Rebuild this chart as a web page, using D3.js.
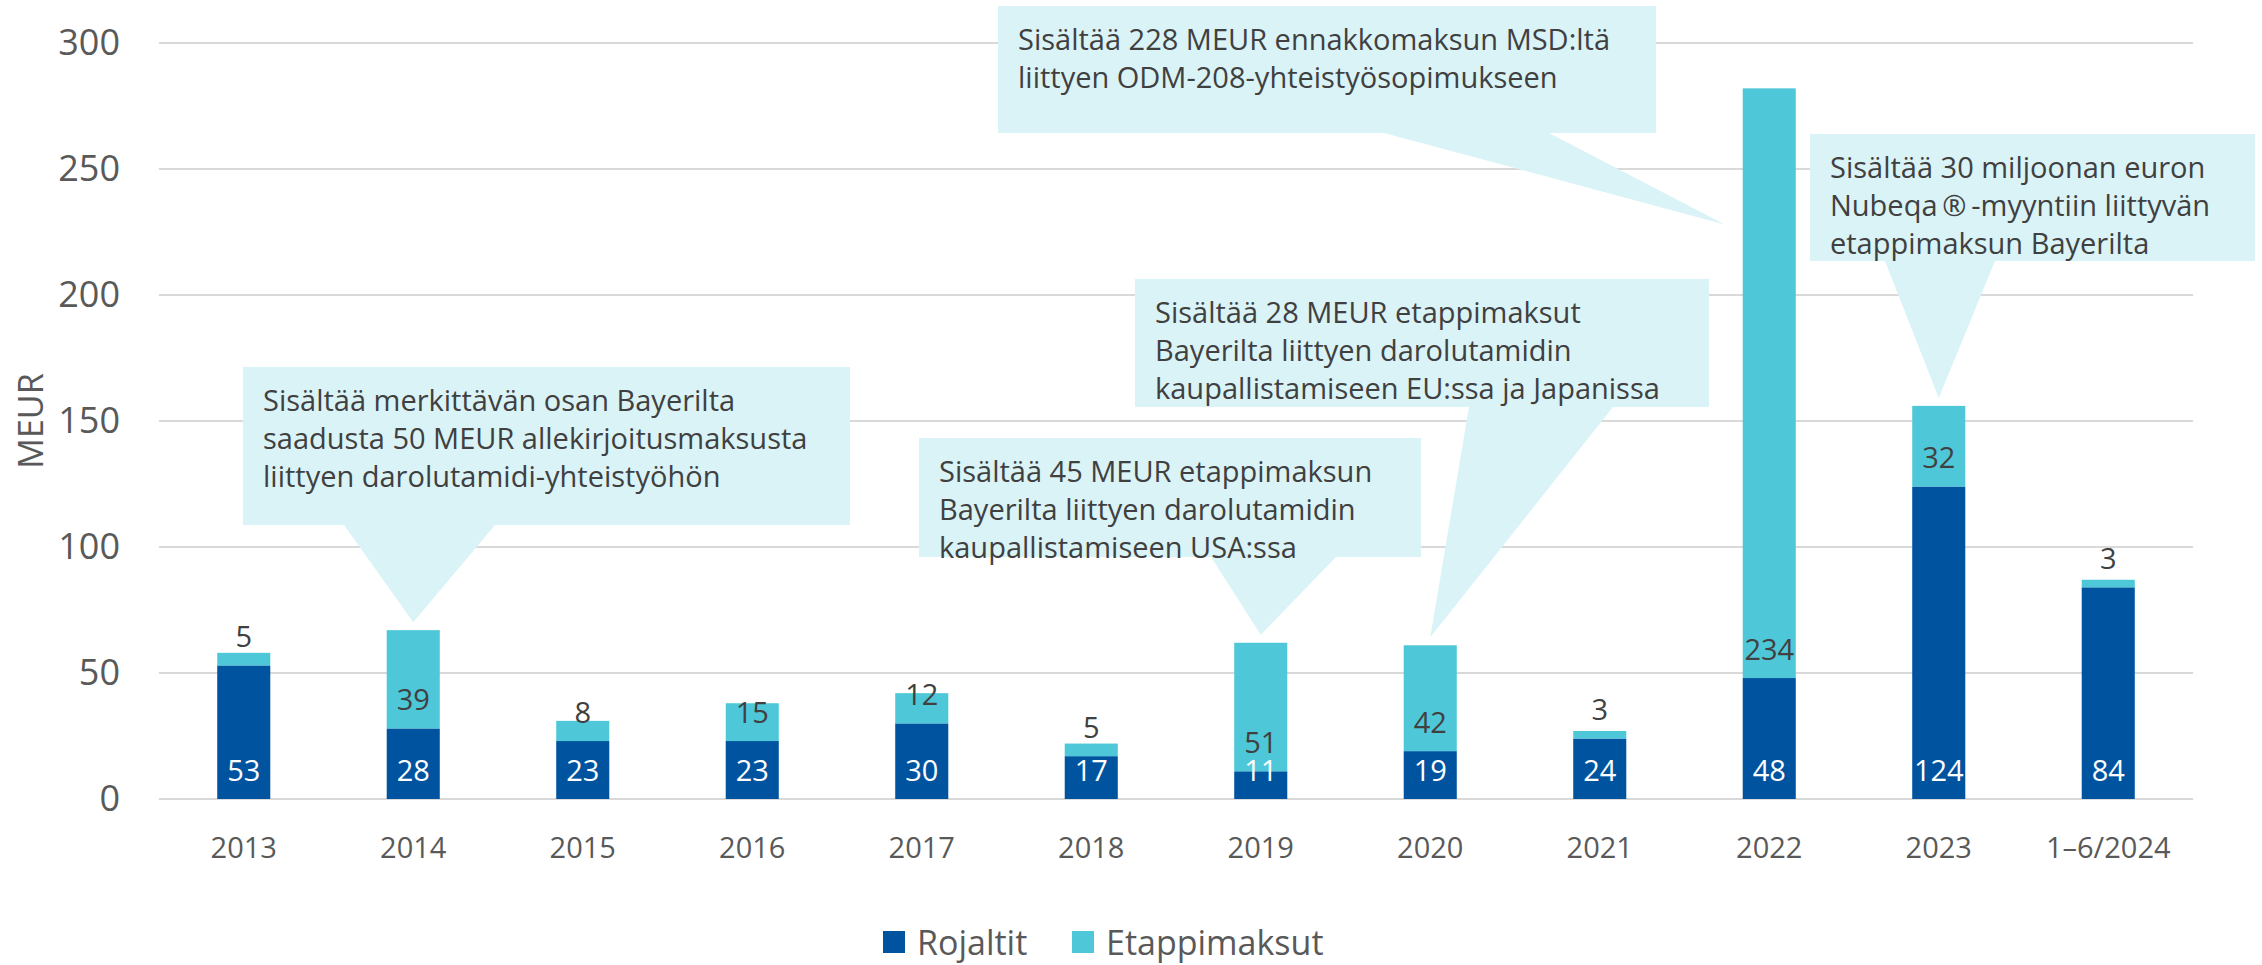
<!DOCTYPE html>
<html>
<head>
<meta charset="utf-8">
<script src="https://cdn.jsdelivr.net/npm/d3@7"></script>
<style>
  html, body { margin: 0; padding: 0; background: #ffffff; }
  svg { display: block; font-family: "Open Sans", "Noto Sans", sans-serif; }
</style>
</head>
<body>
<svg id="chart" width="2262" height="965"></svg>
<script>
// ---- data ----
const categories = ["2013", "2014", "2015", "2016", "2017", "2018", "2019", "2020", "2021", "2022", "2023", "1–6/2024"];
const rojaltit = [53, 28, 23, 23, 30, 17, 11, 19, 24, 48, 124, 84];
const etappimaksut = [5, 39, 8, 15, 12, 5, 51, 42, 3, 234, 32, 3];
const yTicks = [0, 50, 100, 150, 200, 250, 300];
const seriesNames = ["Rojaltit", "Etappimaksut"];
const axisTitle = "MEUR";

const calloutCategories = ["2014", "2019", "2020", "2022", "2023"];
const calloutTexts = [
  ["Sisältää merkittävän osan Bayerilta", "saadusta 50 MEUR allekirjoitusmaksusta", "liittyen darolutamidi-yhteistyöhön"],
  ["Sisältää 45 MEUR etappimaksun", "Bayerilta liittyen darolutamidin", "kaupallistamiseen USA:ssa"],
  ["Sisältää 28 MEUR etappimaksut", "Bayerilta liittyen darolutamidin", "kaupallistamiseen EU:ssa ja Japanissa"],
  ["Sisältää 228 MEUR ennakkomaksun MSD:ltä", "liittyen ODM-208-yhteistyösopimukseen"],
  ["Sisältää 30 miljoonan euron", "Nubeqa\u2009®\u2009-myyntiin liittyvän", "etappimaksun Bayerilta"]
];
// value the 2022 callout points at, beside the bar
const calloutPointValue = [null, null, null, 228, null];

// ---- layout ----
const W = 2262, H = 965;
const plot = { left: 159, right: 2193, top: 43, bottom: 799 };
const colors = { rojaltit: "#00549F", etappi: "#4EC8D8", grid: "#D9D9D9", axisText: "#595959", darkText: "#404040", callout: "#DAF3F7" };

// callout boxes: rect, pointer base span on the box bottom edge
const calloutLayout = [
  { x: 243,  y: 367, w: 607, h: 158, b0: 344,  b1: 495 },
  { x: 919,  y: 438, w: 502, h: 119, b0: 1211, b1: 1336 },
  { x: 1135, y: 279, w: 574, h: 128, b0: 1469, b1: 1613 },
  { x: 998,  y: 6,   w: 658, h: 127, b0: 1384, b1: 1549 },
  { x: 1810, y: 134, w: 445, h: 127, b0: 1885, b1: 1995 }
];

const svg = d3.select("#chart");

const x = d3.scaleBand()
  .domain(categories)
  .range([plot.left, plot.right])
  .paddingInner(0.687)
  .paddingOuter(0.3435);

const y = d3.scaleLinear()
  .domain([0, 300])
  .range([plot.bottom, plot.top]);

// gridlines
svg.append("g")
  .selectAll("line")
  .data(yTicks)
  .join("line")
  .attr("x1", plot.left)
  .attr("x2", plot.right)
  .attr("y1", d => y(d))
  .attr("y2", d => y(d))
  .attr("stroke", colors.grid)
  .attr("stroke-width", 2);

// y axis labels
const yAxis = d3.axisLeft(y).tickValues(yTicks).tickSize(0).tickPadding(0);
const yAxisG = svg.append("g")
  .attr("transform", `translate(${120},0)`)
  .call(yAxis);
yAxisG.select(".domain").remove();
yAxisG.selectAll("text")
  .attr("fill", colors.axisText)
  .attr("font-size", 36)
  .attr("font-family", "\"Open Sans\", \"Noto Sans\", sans-serif");

// x axis labels
const xAxis = d3.axisBottom(x).tickSize(0).tickPadding(0);
const xAxisG = svg.append("g")
  .attr("transform", `translate(0,${plot.bottom})`)
  .call(xAxis);
xAxisG.select(".domain").remove();
xAxisG.selectAll("text")
  .attr("fill", colors.axisText)
  .attr("font-size", 29)
  .attr("font-family", "\"Open Sans\", \"Noto Sans\", sans-serif")
  .attr("dy", null)
  .attr("y", 47)
  .attr("dominant-baseline", "central");

// axis title
svg.append("text")
  .attr("transform", `translate(30,${421}) rotate(-90)`)
  .attr("text-anchor", "middle")
  .attr("dominant-baseline", "central")
  .attr("fill", colors.axisText)
  .attr("font-size", 34)
  .text(axisTitle);

// stacked bars
const rows = categories.map((c, i) => ({ cat: c, r: rojaltit[i], e: etappimaksut[i] }));

const barG = svg.append("g");
barG.selectAll("rect.r")
  .data(rows)
  .join("rect")
  .attr("class", "r")
  .attr("x", d => x(d.cat))
  .attr("width", x.bandwidth())
  .attr("y", d => y(d.r))
  .attr("height", d => y(0) - y(d.r))
  .attr("fill", colors.rojaltit);

barG.selectAll("rect.e")
  .data(rows)
  .join("rect")
  .attr("class", "e")
  .attr("x", d => x(d.cat))
  .attr("width", x.bandwidth())
  .attr("y", d => y(d.r + d.e))
  .attr("height", d => y(d.r) - y(d.r + d.e))
  .attr("fill", colors.etappi);

// callouts (drawn over gridlines)
const calloutG = svg.append("g");
calloutCategories.forEach((cat, i) => {
  const L = calloutLayout[i];
  const total = rojaltit[categories.indexOf(cat)] + etappimaksut[categories.indexOf(cat)];
  let tipX, tipY;
  if (calloutPointValue[i] != null) {
    tipX = x(cat) - 18;
    tipY = y(calloutPointValue[i]);
  } else {
    tipX = x(cat) + x.bandwidth() / 2;
    tipY = y(total) - 8;
  }
  const bottom = L.y + L.h;
  const path = d3.path();
  path.moveTo(L.x, L.y);
  path.lineTo(L.x + L.w, L.y);
  path.lineTo(L.x + L.w, bottom);
  path.lineTo(L.b1, bottom);
  path.lineTo(tipX, tipY);
  path.lineTo(L.b0, bottom);
  path.lineTo(L.x, bottom);
  path.closePath();
  calloutG.append("path")
    .attr("d", path.toString())
    .attr("fill", colors.callout);

  calloutG.append("g")
    .selectAll("text")
    .data(calloutTexts[i])
    .join("text")
    .attr("x", L.x + 20)
    .attr("y", (d, j) => L.y + 32 + j * 38)
    .attr("dominant-baseline", "central")
    .attr("fill", colors.darkText)
    .attr("font-size", 29)
    .text(d => d);
});

// value labels: placed at the base of each segment
const labelG = svg.append("g")
  .attr("font-size", 29)
  .attr("text-anchor", "middle")
  .attr("dominant-baseline", "central");

labelG.selectAll("text.r")
  .data(rows)
  .join("text")
  .attr("class", "r")
  .attr("x", d => x(d.cat) + x.bandwidth() / 2)
  .attr("y", d => y(0) - 30)
  .attr("fill", "#ffffff")
  .text(d => d.r);

labelG.selectAll("text.e")
  .data(rows)
  .join("text")
  .attr("class", "e")
  .attr("x", d => x(d.cat) + x.bandwidth() / 2)
  .attr("y", d => y(d.r) - 30)
  .attr("fill", colors.darkText)
  .text(d => d.e);

// legend
const legendItems = [
  { name: seriesNames[0], color: colors.rojaltit, x: 883 },
  { name: seriesNames[1], color: colors.etappi, x: 1072 }
];
const legendG = svg.append("g");
legendItems.forEach(it => {
  legendG.append("rect")
    .attr("x", it.x)
    .attr("y", 931)
    .attr("width", 22)
    .attr("height", 22)
    .attr("fill", it.color);
  legendG.append("text")
    .attr("x", it.x + 34)
    .attr("y", 942)
    .attr("dominant-baseline", "central")
    .attr("fill", colors.axisText)
    .attr("font-size", 34)
    .text(it.name);
});
</script>
</body>
</html>
